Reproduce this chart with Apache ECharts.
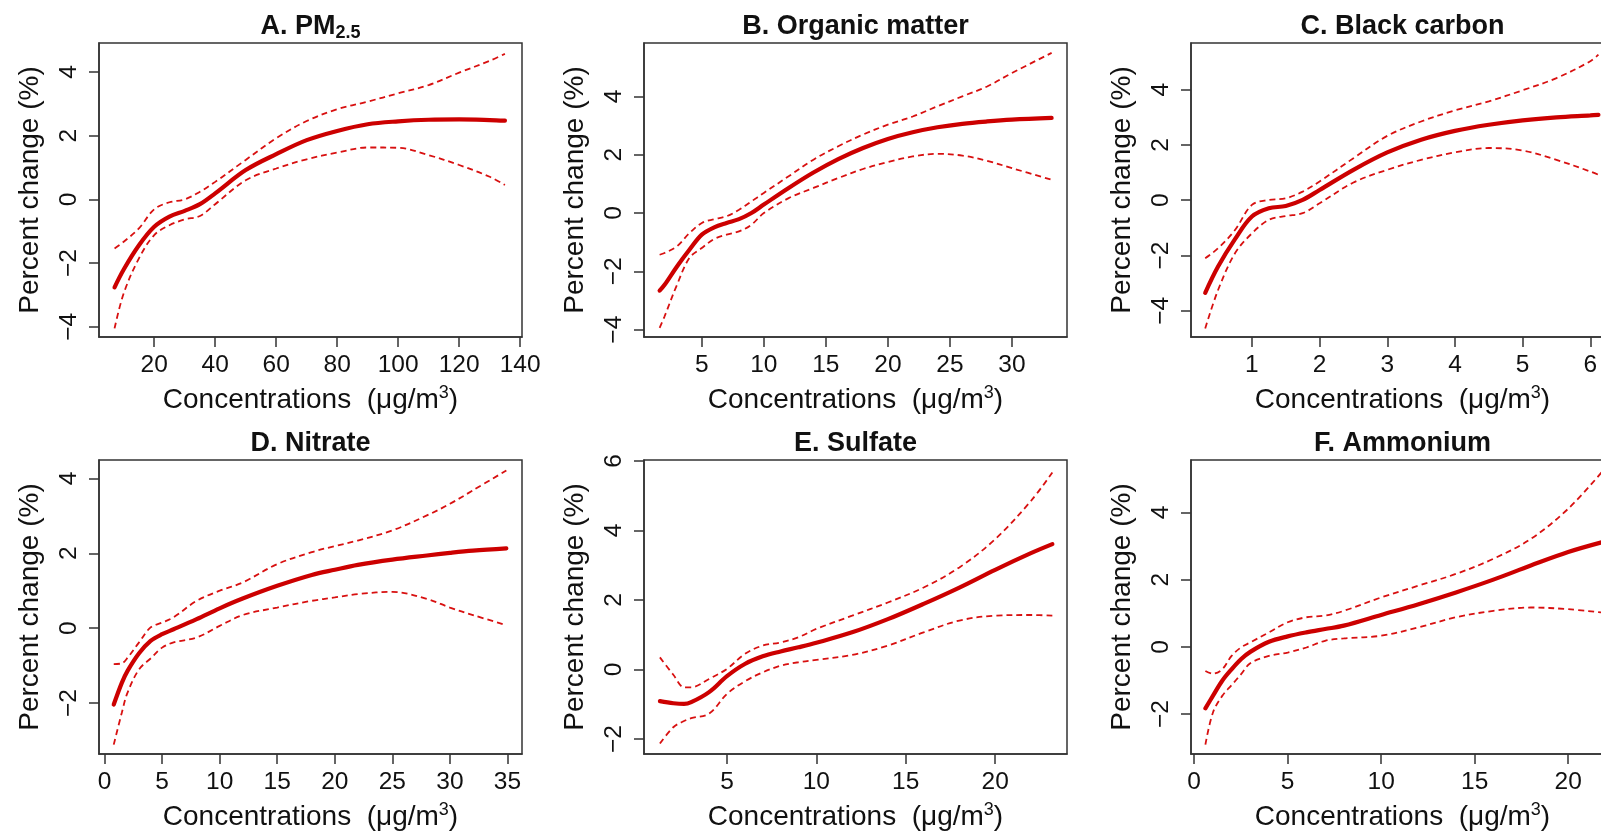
<!DOCTYPE html>
<html>
<head>
<meta charset="utf-8">
<script src="https://cdn.jsdelivr.net/npm/echarts@6/dist/echarts.min.js"></script>
<style>
html,body{margin:0;padding:0;background:#fff;}
#chart{width:1601px;height:832px;}
</style>
</head>
<body>
<div id="chart"></div>
<script>
// ---------------- DATA ----------------
// A. PM2.5
const aX     = [7, 10, 15, 20, 25, 30, 35, 40, 50, 60, 70, 80, 90, 100, 110, 120, 130, 135];
const aFit   = [-2.76, -2.2, -1.44, -0.86, -0.54, -0.36, -0.15, 0.19, 0.92, 1.42, 1.86, 2.15, 2.36, 2.45, 2.5, 2.51, 2.49, 2.47];
const aUpper = [-1.54, -1.33, -0.91, -0.31, -0.09, 0.0, 0.24, 0.55, 1.24, 1.92, 2.46, 2.83, 3.07, 3.33, 3.59, 3.98, 4.35, 4.57];
const aLower = [-4.05, -2.95, -1.85, -1.12, -0.81, -0.63, -0.52, -0.15, 0.6, 0.97, 1.26, 1.47, 1.63, 1.62, 1.39, 1.08, 0.71, 0.45];
const aXTicks = [20, 40, 60, 80, 100, 120, 140];
const aYTicks = [-4, -2, 0, 2, 4];

// B. Organic matter
const bX     = [1.6, 2, 3, 4, 5, 6, 7, 8, 9, 10, 12, 14, 16, 18, 20, 22, 24, 26, 28, 30, 33.2];
const bFit   = [-2.66, -2.46, -1.83, -1.26, -0.74, -0.49, -0.34, -0.21, 0.0, 0.29, 0.86, 1.39, 1.85, 2.23, 2.54, 2.77, 2.94, 3.06, 3.14, 3.2, 3.26];
const bUpper = [-1.43, -1.37, -1.14, -0.69, -0.34, -0.21, -0.11, 0.11, 0.4, 0.69, 1.26, 1.83, 2.29, 2.69, 3.03, 3.31, 3.66, 4.0, 4.34, 4.8, 5.49];
const bLower = [-3.94, -3.54, -2.46, -1.54, -1.2, -0.89, -0.74, -0.63, -0.4, 0.0, 0.51, 0.86, 1.2, 1.51, 1.75, 1.94, 2.03, 1.97, 1.79, 1.54, 1.14];
const bXTicks = [5, 10, 15, 20, 25, 30];
const bYTicks = [-4, -2, 0, 2, 4];

// C. Black carbon
const cX     = [0.31, 0.5, 0.75, 1.0, 1.25, 1.5, 1.75, 2.0, 2.5, 3.0, 3.5, 4.0, 4.5, 5.0, 5.5, 6.0, 6.12];
const cFit   = [-3.35, -2.4, -1.41, -0.59, -0.29, -0.21, 0.01, 0.37, 1.1, 1.73, 2.19, 2.51, 2.73, 2.89, 3.0, 3.07, 3.09];
const cUpper = [-2.1, -1.74, -1.08, -0.17, 0.01, 0.07, 0.31, 0.68, 1.52, 2.33, 2.85, 3.25, 3.58, 3.98, 4.42, 5.03, 5.27];
const cLower = [-4.64, -3.25, -1.92, -1.2, -0.71, -0.57, -0.47, -0.11, 0.64, 1.1, 1.46, 1.73, 1.89, 1.8, 1.46, 1.04, 0.92];
const cXTicks = [1, 2, 3, 4, 5, 6];
const cYTicks = [-4, -2, 0, 2, 4];

// D. Nitrate
const dX     = [0.8, 1.5, 2, 3, 4, 5, 6, 8, 10, 12, 15, 18, 20, 22, 25, 28, 30, 32, 34.9];
const dFit   = [-2.04, -1.46, -1.14, -0.67, -0.34, -0.16, -0.03, 0.24, 0.53, 0.79, 1.13, 1.42, 1.56, 1.69, 1.83, 1.94, 2.01, 2.07, 2.13];
const dUpper = [-0.96, -0.94, -0.79, -0.38, 0.02, 0.15, 0.29, 0.73, 1.0, 1.22, 1.71, 2.03, 2.19, 2.34, 2.61, 3.01, 3.32, 3.68, 4.21];
const dLower = [-3.11, -2.26, -1.72, -1.1, -0.81, -0.52, -0.38, -0.25, 0.06, 0.35, 0.55, 0.73, 0.82, 0.91, 0.97, 0.78, 0.55, 0.35, 0.08];
const dXTicks = [0, 5, 10, 15, 20, 25, 30, 35];
const dYTicks = [-2, 0, 2, 4];

// E. Sulfate
const eX     = [1.25, 2, 2.6, 3, 4, 5, 6, 7, 8, 9, 10, 12, 14, 16, 18, 20, 22, 23.2];
const eFit   = [-0.91, -0.97, -0.99, -0.94, -0.65, -0.19, 0.16, 0.38, 0.52, 0.64, 0.77, 1.07, 1.45, 1.89, 2.36, 2.87, 3.35, 3.61];
const eUpper = [0.35, -0.15, -0.51, -0.51, -0.27, 0.02, 0.45, 0.69, 0.78, 0.93, 1.17, 1.55, 1.93, 2.36, 2.94, 3.75, 4.85, 5.67];
const eLower = [-2.13, -1.66, -1.48, -1.4, -1.27, -0.7, -0.34, -0.08, 0.11, 0.21, 0.28, 0.42, 0.69, 1.07, 1.41, 1.55, 1.57, 1.55];
const eXTicks = [5, 10, 15, 20];
const eYTicks = [-2, 0, 2, 4, 6];

// F. Ammonium
const fX     = [0.6, 1, 1.5, 2, 2.5, 3, 4, 5, 6, 7, 8, 10, 12, 14, 16, 18, 20, 21.8];
const fFit   = [-1.83, -1.46, -1.01, -0.67, -0.37, -0.15, 0.15, 0.31, 0.43, 0.53, 0.63, 0.95, 1.27, 1.62, 2.0, 2.42, 2.82, 3.11];
const fUpper = [-0.72, -0.8, -0.67, -0.27, -0.02, 0.13, 0.43, 0.73, 0.88, 0.93, 1.07, 1.47, 1.82, 2.17, 2.62, 3.21, 4.11, 5.2];
const fLower = [-2.91, -1.96, -1.46, -1.14, -0.82, -0.49, -0.27, -0.17, -0.02, 0.18, 0.25, 0.33, 0.58, 0.88, 1.07, 1.17, 1.12, 1.02];
const fXTicks = [0, 5, 10, 15, 20];
const fYTicks = [-2, 0, 2, 4];

const titles = ['{a|A. PM}{s|2.5}', '{a|B. Organic matter}', '{a|C. Black carbon}',
                '{a|D. Nitrate}', '{a|E. Sulfate}', '{a|F. Ammonium}'];
const xAxisTitle = '{a|Concentrations  (μg/m}{p|3}{a|)}';
const yAxisTitle = 'Percent change (%)';

// ---------------- LAYOUT ----------------
const FONT = '"Liberation Sans", Arial, Helvetica, sans-serif';
const MAIN = '#CC0000';
const CI = '#D81010';
const AXC = '#333333';

const panels = [
  {x: aX, fit: aFit, up: aUpper, lo: aLower, xt: aXTicks, yt: aYTicks, xr: [1.9, 140.6], yr: [-4.32, 4.91], left: 99, top: 43},
  {x: bX, fit: bFit, up: bUpper, lo: bLower, xt: bXTicks, yt: bYTicks, xr: [0.34, 34.44], yr: [-4.25, 5.83], left: 644, top: 43},
  {x: cX, fit: cFit, up: cUpper, lo: cLower, xt: cXTicks, yt: cYTicks, xr: [0.10, 6.35], yr: [-4.95, 5.69], left: 1191, top: 43},
  {x: dX, fit: dFit, up: dUpper, lo: dLower, xt: dXTicks, yt: dYTicks, xr: [-0.48, 36.26], yr: [-3.36, 4.49], left: 99, top: 460},
  {x: eX, fit: eFit, up: eUpper, lo: eLower, xt: eXTicks, yt: eYTicks, xr: [0.36, 24.02], yr: [-2.43, 6.03], left: 644, top: 460},
  {x: fX, fit: fFit, up: fUpper, lo: fLower, xt: fXTicks, yt: fYTicks, xr: [-0.17, 22.45], yr: [-3.19, 5.56], left: 1191, top: 460}
];
const W = 423, H = 294;

const fmt = v => (v < 0 ? '\u2212' + (-v) : String(v));
const pairs = (xs, ys) => xs.map((x, i) => [x, ys[i]]);

const grid = [], xAxis = [], yAxis = [], series = [], title = [];
panels.forEach((p, i) => {
  grid.push({left: p.left, top: p.top, width: W, height: H, show: true, borderColor: AXC, borderWidth: 1.5,
    backgroundColor: 'transparent', containLabel: false, outerBoundsMode: 'none'});
  xAxis.push({
    type: 'value', gridIndex: i, min: p.xr[0], max: p.xr[1],
    axisLine: {show: true, onZero: false, lineStyle: {color: AXC, width: 1.5}},
    axisTick: {show: true, length: 10, customValues: p.xt, lineStyle: {color: AXC, width: 1.5}},
    axisLabel: {customValues: p.xt, formatter: fmt, fontSize: 24.5, color: '#111', fontFamily: FONT, margin: 16},
    splitLine: {show: false},
    name: xAxisTitle, nameLocation: 'middle', nameGap: 47, nameMoveOverlap: false,
    nameTextStyle: {
      rich: {
        a: {fontSize: 28, fontFamily: FONT, color: '#111', lineHeight: 32},
        p: {fontSize: 18, fontFamily: FONT, color: '#111', lineHeight: 18, verticalAlign: 'top'}
      }
    }
  });
  yAxis.push({
    type: 'value', gridIndex: i, min: p.yr[0], max: p.yr[1],
    axisLine: {show: true, onZero: false, lineStyle: {color: AXC, width: 1.5}},
    axisTick: {show: true, length: 10, customValues: p.yt, lineStyle: {color: AXC, width: 1.5}},
    axisLabel: {customValues: p.yt, formatter: fmt, rotate: 90, fontSize: 24.5, color: '#111', fontFamily: FONT, margin: 17},
    splitLine: {show: false},
    name: yAxisTitle, nameLocation: 'middle', nameRotate: 90, nameGap: 54, nameMoveOverlap: false,
    nameTextStyle: {fontSize: 28, fontFamily: FONT, color: '#111', lineHeight: 30}
  });
  title.push({
    text: titles[i], left: p.left + W / 2, top: p.top - 31, textAlign: 'center', padding: 0,
    textStyle: {
      rich: {
        a: {fontSize: 27, fontWeight: 'bold', fontFamily: FONT, color: '#111', lineHeight: 30},
        s: {fontSize: 18, fontWeight: 'bold', fontFamily: FONT, color: '#111', lineHeight: 18, verticalAlign: 'bottom'}
      }
    }
  });
  const common = {type: 'line', xAxisIndex: i, yAxisIndex: i, showSymbol: false, symbol: 'none', smooth: 0.35, silent: true, animation: false};
  series.push(Object.assign({}, common, {name: 'upper' + i, data: pairs(p.x, p.up), lineStyle: {color: CI, width: 1.8, type: [6, 4]}}));
  series.push(Object.assign({}, common, {name: 'lower' + i, data: pairs(p.x, p.lo), lineStyle: {color: CI, width: 1.8, type: [6, 4]}}));
  series.push(Object.assign({}, common, {name: 'fit' + i, data: pairs(p.x, p.fit), lineStyle: {color: MAIN, width: 4.2, cap: 'round'}}));
});

const chart = echarts.init(document.getElementById('chart'), null, {renderer: 'canvas'});
chart.setOption({animation: false, backgroundColor: '#fff', title, grid, xAxis, yAxis, series});
</script>
</body>
</html>
